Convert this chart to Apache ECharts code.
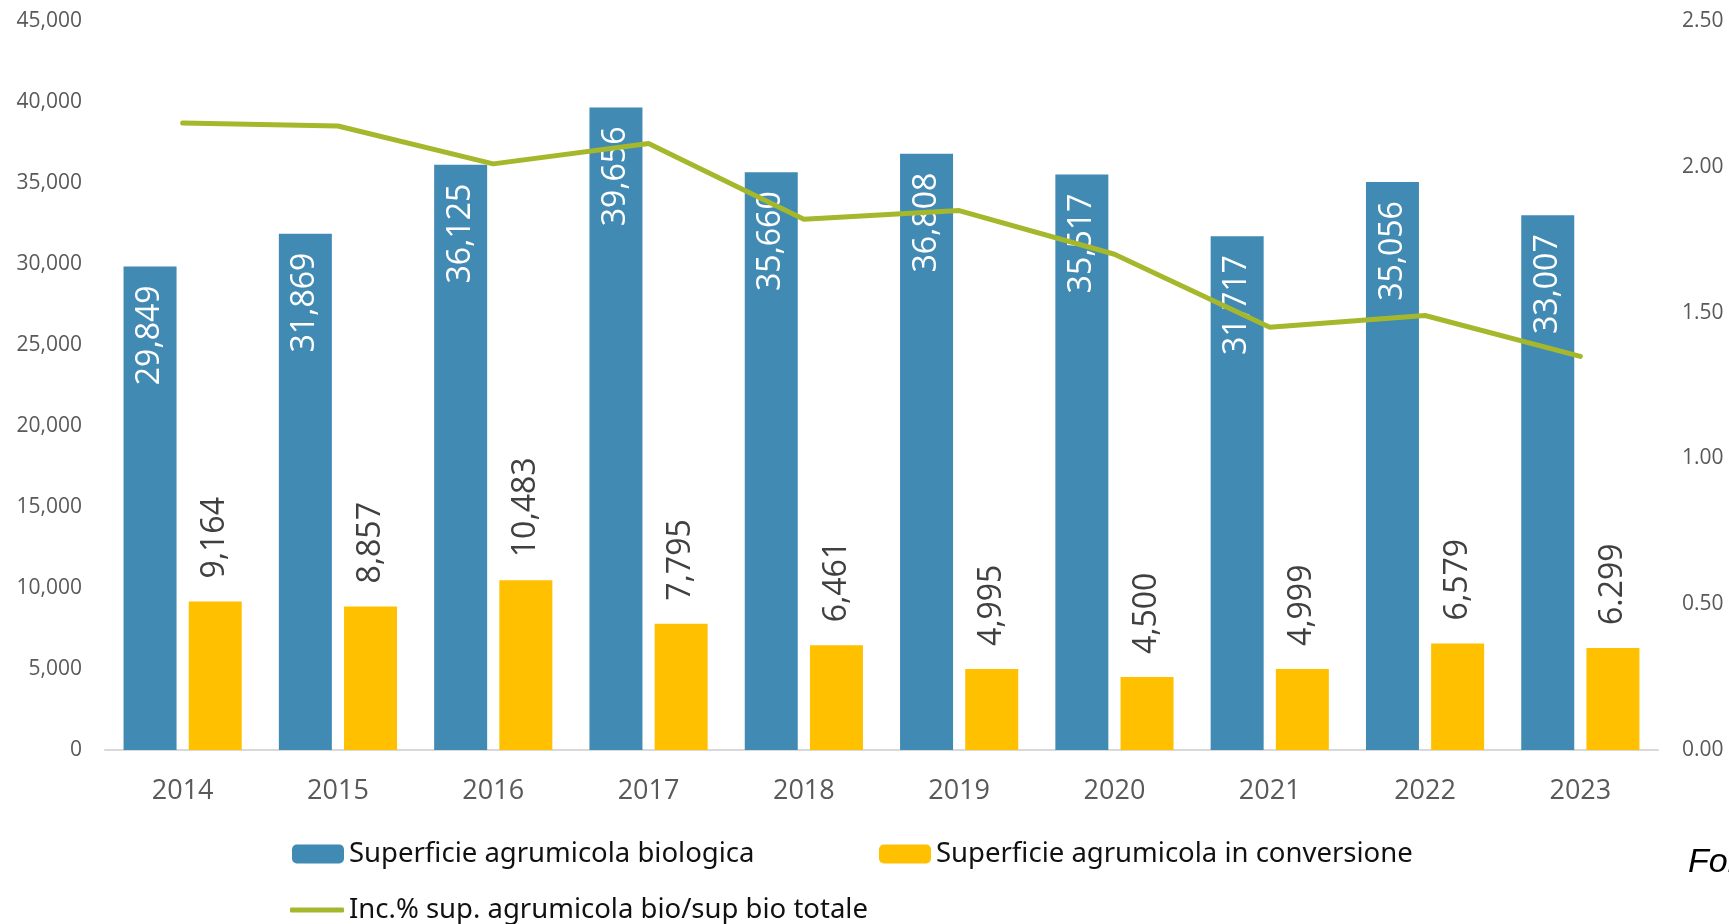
<!DOCTYPE html>
<html lang="it">
<head>
  <meta charset="UTF-8">
  <title>Superficie agrumicola biologica</title>
  <style>
    * { margin: 0; padding: 0; }
    html, body { width: 100%; height: 100%; background: #fff; }
    .chart { width: 1729px; height: 924px; }
  </style>
</head>
<body>
  <div class="chart"></div>

  <script src="https://cdn.jsdelivr.net/npm/echarts@6/dist/echarts.min.js"></script>
  <script>
    var years = ['2014', '2015', '2016', '2017', '2018', '2019', '2020', '2021', '2022', '2023']
    var bio = [29849, 31869, 36125, 39656, 35660, 36808, 35517, 31717, 35056, 33007]
    var conv = [9164, 8857, 10483, 7795, 6461, 4995, 4500, 4999, 6579, 6299]
    var convLabels = ['9,164', '8,857', '10,483', '7,795', '6,461', '4,995', '4,500', '4,999', '6,579', '6.299']
    var incidenza = [2.15, 2.14, 2.01, 2.08, 1.82, 1.85, 1.70, 1.45, 1.49, 1.35]

    var nameBio = 'Superficie agrumicola biologica'
    var nameConv = 'Superficie agrumicola in conversione'
    var nameInc = 'Inc.% sup. agrumicola bio/sup bio totale'

    var font = '"Open Sans", "Noto Sans", sans-serif'

    var myChart = echarts.init(document.querySelector('.chart'))

    var legendText = { fontFamily: '"Noto Sans", sans-serif', fontSize: 27.5, lineHeight: 30, color: '#111' }

    var option = {
      animation: false,
      grid: { left: 105, right: 71, top: 21, bottom: 174 },
      legend: [
        { data: [nameBio], left: 292, top: 839, itemWidth: 52, itemHeight: 19, itemGap: 4, textStyle: legendText, padding: 0 },
        { data: [nameConv], left: 879, top: 839, itemWidth: 52, itemHeight: 19, textStyle: legendText, padding: 0 },
        {
          data: [{ name: nameInc, icon: 'roundRect' }], left: 290, top: 895, itemWidth: 54, itemHeight: 5,
          itemStyle: { color: '#A5B82B' }, textStyle: legendText, padding: 0
        }
      ],
      xAxis: {
        type: 'category',
        data: years,
        axisLine: { lineStyle: { color: '#D9D9D9', width: 2 } },
        axisTick: { show: false },
        axisLabel: { color: '#595959', fontFamily: font, fontSize: 27, margin: 28 }
      },
      yAxis: [
        {
          type: 'value',
          min: 0, max: 45000, interval: 5000,
          splitLine: { show: false },
          axisLabel: {
            color: '#595959', fontFamily: font, fontSize: 21, margin: 23,
            formatter: function (v) { return v.toLocaleString('en-US') }
          }
        },
        {
          type: 'value',
          min: 0, max: 2.5, interval: 0.5,
          splitLine: { show: false },
          axisLabel: {
            color: '#595959', fontFamily: font, fontSize: 21, margin: 24,
            formatter: function (v) { return v.toFixed(2) }
          }
        }
      ],
      series: [
        {
          name: nameBio,
          type: 'bar',
          data: bio,
          barWidth: 53,
          barGap: '23%',
          itemStyle: { color: '#418AB3' },
          label: {
            show: true,
            position: 'insideTop',
            rotate: 90,
            align: 'right',
            verticalAlign: 'middle',
            distance: 19,
            color: '#fff',
            fontFamily: font,
            fontSize: 32,
            formatter: function (p) { return p.value.toLocaleString('en-US') }
          }
        },
        {
          name: nameConv,
          type: 'bar',
          data: conv,
          barWidth: 53,
          itemStyle: { color: '#FFC000' },
          label: {
            show: true,
            position: 'top',
            rotate: 90,
            align: 'left',
            verticalAlign: 'middle',
            distance: 23,
            color: '#404040',
            fontFamily: font,
            fontSize: 32,
            formatter: function (p) { return convLabels[p.dataIndex] }
          }
        },
        {
          name: nameInc,
          type: 'line',
          yAxisIndex: 1,
          data: incidenza,
          symbol: 'none',
          lineStyle: { color: '#A5B82B', width: 5, cap: 'round' },
          itemStyle: { color: '#A5B82B' }
        }
      ],
      graphic: [
        {
          type: 'text',
          left: 1688,
          top: 846,
          style: { text: 'Fonte: SINAB', fontFamily: '"Liberation Sans", Arial, sans-serif', fontSize: 34, fontStyle: 'italic', fill: '#000' }
        }
      ]
    }

    myChart.setOption(option)
  </script>
</body>
</html>
